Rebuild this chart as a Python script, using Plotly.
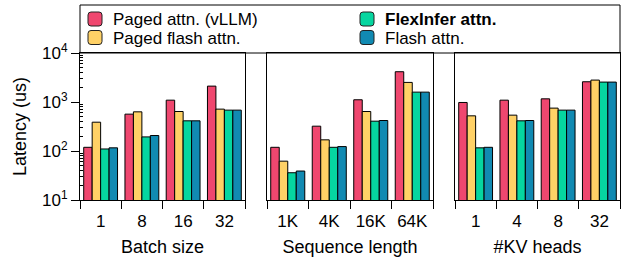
import plotly.graph_objects as go

# ---- data ----
batch_labels = ["1", "8", "16", "32"]
seq_labels = ["1K", "4K", "16K", "64K"]
head_labels = ["1", "4", "8", "32"]

paged_vllm_batch = [119, 565, 1090, 2110]
paged_flash_batch = [387, 630, 640, 715]
flexinfer_batch = [110, 194, 413, 682]
flash_batch = [116, 207, 413, 682]

paged_vllm_seq = [119, 321, 1110, 4150]
paged_flash_seq = [62, 169, 640, 2510]
flexinfer_seq = [36, 119, 406, 1590]
flash_seq = [39, 123, 419, 1590]

paged_vllm_heads = [978, 1090, 1160, 2590]
paged_flash_heads = [522, 539, 750, 2800]
flexinfer_heads = [116, 413, 682, 2550]
flash_heads = [119, 419, 682, 2550]

series_names = ["Paged attn. (vLLM)", "Paged flash attn.", "<b>FlexInfer attn.</b>", "Flash attn."]
series_colors = ["#EF476F", "#FFD166", "#06D6A0", "#118AB2"]

panel_titles = ["Batch size", "Sequence length", "#KV heads"]
y_title = "Latency (us)"
y_tickvals = [10, 100, 1000, 10000]
y_ticktext = ["10<sup>1</sup>", "10<sup>2</sup>", "10<sup>3</sup>", "10<sup>4</sup>"]

panels = [
    (batch_labels, [paged_vllm_batch, paged_flash_batch, flexinfer_batch, flash_batch]),
    (seq_labels, [paged_vllm_seq, paged_flash_seq, flexinfer_seq, flash_seq]),
    (head_labels, [paged_vllm_heads, paged_flash_heads, flexinfer_heads, flash_heads]),
]

FONT = "Liberation Sans, Arial, Helvetica, sans-serif"

fig = go.Figure()
for p, (cats, series) in enumerate(panels):
    xa = "x" if p == 0 else f"x{p+1}"
    ya = "y" if p == 0 else f"y{p+1}"
    for s, vals in enumerate(series):
        fig.add_trace(go.Bar(
            x=cats, y=vals, name=series_names[s],
            marker=dict(color=series_colors[s], line=dict(color="black", width=1)),
            xaxis=xa, yaxis=ya, showlegend=False,
            offsetgroup=str(s),
        ))

W, H = 623, 262
L, R, T, B = 80, 3, 53, 62
pw = W - L - R
ph = H - T - B
domains = [[0, 165 / pw], [187 / pw, 353 / pw], [375 / pw, 1]]

def px_x(px):
    return (px - L) / pw

def px_y(py):
    return (H - B - py) / ph

minor_vals = [k * 10 ** d for d in range(1, 4) for k in range(2, 10)]

# legend drawn as a framed box: 2 columns x 2 rows
shapes = [dict(type="rect", xref="paper", yref="paper", x0=0, x1=1, y0=1, y1=px_y(5),
               line=dict(color="black", width=1), fillcolor="rgba(0,0,0,0)", layer="above")]
annotations = []
legend_cols = [88, 360]   # swatch left (px)
legend_rows = [12, 30.5]  # swatch top (px)
order = [(0, 0), (0, 1), (1, 0), (1, 1)]  # (col,row) for each series
sw = 14
r = 3
for s, (c, rw) in enumerate(order):
    x0, y0 = legend_cols[c], legend_rows[rw]
    x1, y1 = x0 + sw, y0 + sw
    rx, ry = r / pw, r / ph
    X0, X1 = px_x(x0), px_x(x1)
    Y0, Y1 = px_y(y1), px_y(y0)  # paper: Y0 bottom, Y1 top
    path = (f"M{X0+rx},{Y0} L{X1-rx},{Y0} Q{X1},{Y0} {X1},{Y0+ry} L{X1},{Y1-ry} "
            f"Q{X1},{Y1} {X1-rx},{Y1} L{X0+rx},{Y1} Q{X0},{Y1} {X0},{Y1-ry} "
            f"L{X0},{Y0+ry} Q{X0},{Y0} {X0+rx},{Y0} Z")
    shapes.append(dict(type="path", xref="paper", yref="paper", path=path,
                       fillcolor=series_colors[s], line=dict(color="#222222", width=1)))
    annotations.append(dict(xref="paper", yref="paper", x=px_x(x1 + 9), y=px_y(y0 + sw / 2 + 0.5),
                            xanchor="left", yanchor="middle", showarrow=False,
                            text=series_names[s], font=dict(family=FONT, size=17, color="black")))

layout = dict(
    width=W, height=H,
    margin=dict(l=L, r=R, t=T, b=B, autoexpand=False),
    plot_bgcolor="white", paper_bgcolor="white",
    font=dict(family=FONT, size=17, color="black"),
    barmode="group", bargap=0.18, bargroupgap=0,
    showlegend=False,
    shapes=shapes, annotations=annotations,
)

for p in range(3):
    xk = "xaxis" if p == 0 else f"xaxis{p+1}"
    yk = "yaxis" if p == 0 else f"yaxis{p+1}"
    ya = "y" if p == 0 else f"y{p+1}"
    layout[xk] = dict(
        domain=domains[p], anchor=ya, type="category",
        showline=True, linecolor="black", linewidth=1, mirror=True,
        ticks="outside", tickson="boundaries", ticklen=8, tickcolor="black", tickwidth=1,
        ticklabelstandoff=6,
        showgrid=False, zeroline=False,
        tickfont=dict(family=FONT, size=17),
        title=dict(text=panel_titles[p], font=dict(family=FONT, size=18), standoff=9),
        automargin=False,
    )
    ycfg = dict(
        type="log", range=[1, 4], anchor="x" if p == 0 else f"x{p+1}",
        showline=True, linecolor="black", linewidth=1, mirror=True,
        showgrid=False, zeroline=False, automargin=False,
    )
    if p == 0:
        ycfg.update(
            tickmode="array", tickvals=y_tickvals, ticktext=y_ticktext,
            ticks="outside", ticklen=8, tickcolor="black", tickwidth=1,
            tickfont=dict(family=FONT, size=17),
            minor=dict(tickmode="array", tickvals=minor_vals, ticks="inside", ticklen=3,
                       tickcolor="black", tickwidth=1, showgrid=False),
            title=dict(text=y_title, font=dict(family=FONT, size=18), standoff=10),
        )
    else:
        ycfg.update(showticklabels=False, ticks="", matches="y")
    layout[yk] = ycfg

fig.update_layout(**layout)
fig.write_html("out.html", config={"displayModeBar": False},
               post_script="document.body.style.margin='0';document.body.style.overflow='hidden';")
